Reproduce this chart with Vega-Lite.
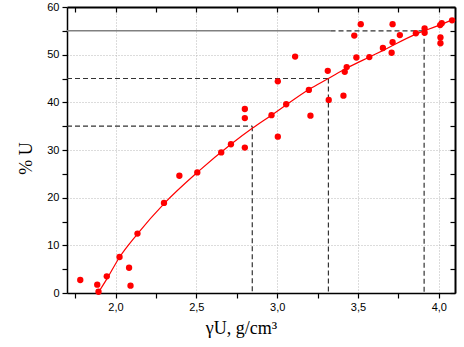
{
  "$schema": "https://vega.github.io/schema/vega-lite/v6.json",
  "width": 388,
  "height": 286,
  "autosize": {"type": "none"},
  "padding": {"left": 67, "top": 7, "right": 9, "bottom": 54},
  "background": "white",
  "config": {
    "view": {"stroke": null},
    "axis": {
      "domainColor": "black",
      "domainWidth": 1.5,
      "tickColor": "black",
      "tickWidth": 1.2,
      "labelColor": "black",
      "titleColor": "black",
      "labelFont": "Liberation Sans",
      "labelFontSize": 11,
      "titleFont": "Liberation Serif",
      "titleFontSize": 18,
      "titleFontWeight": "normal",
      "gridColor": "#b8b8b8",
      "gridDash": [1, 2],
      "gridWidth": 1,
      "labelOverlap": false,
      "labelFlush": false
    }
  },
  "datasets": {
    "points": [
      {"gamma": 1.782, "U": 2.73}, {"gamma": 1.887, "U": 1.74}, {"gamma": 1.895, "U": 0.27},
      {"gamma": 1.946, "U": 3.5}, {"gamma": 2.025, "U": 7.56}, {"gamma": 2.084, "U": 5.3},
      {"gamma": 2.093, "U": 1.53}, {"gamma": 2.136, "U": 12.46}, {"gamma": 2.30, "U": 18.9},
      {"gamma": 2.395, "U": 24.6}, {"gamma": 2.506, "U": 25.3}, {"gamma": 2.654, "U": 29.5},
      {"gamma": 2.714, "U": 31.2}, {"gamma": 2.80, "U": 38.6}, {"gamma": 2.80, "U": 36.7},
      {"gamma": 2.80, "U": 30.5}, {"gamma": 2.965, "U": 37.3}, {"gamma": 3.004, "U": 44.4},
      {"gamma": 3.004, "U": 32.8}, {"gamma": 3.056, "U": 39.6}, {"gamma": 3.111, "U": 49.6},
      {"gamma": 3.196, "U": 42.6}, {"gamma": 3.206, "U": 37.2}, {"gamma": 3.313, "U": 46.6},
      {"gamma": 3.319, "U": 40.5}, {"gamma": 3.41, "U": 41.4}, {"gamma": 3.418, "U": 46.4},
      {"gamma": 3.43, "U": 47.4}, {"gamma": 3.477, "U": 54.0}, {"gamma": 3.49, "U": 49.4},
      {"gamma": 3.517, "U": 56.4}, {"gamma": 3.57, "U": 49.5}, {"gamma": 3.654, "U": 51.4},
      {"gamma": 3.708, "U": 50.4}, {"gamma": 3.714, "U": 56.4}, {"gamma": 3.714, "U": 52.6},
      {"gamma": 3.759, "U": 54.1}, {"gamma": 3.858, "U": 54.5}, {"gamma": 3.912, "U": 55.5},
      {"gamma": 3.912, "U": 54.6}, {"gamma": 4.008, "U": 56.2}, {"gamma": 4.018, "U": 56.6},
      {"gamma": 4.01, "U": 53.6}, {"gamma": 4.01, "U": 52.4}, {"gamma": 4.082, "U": 57.2}
    ],
    "curve": [
      {"gamma": 1.892, "U": 0}, {"gamma": 1.944, "U": 2.8}, {"gamma": 2.025, "U": 7.5},
      {"gamma": 2.136, "U": 12.4}, {"gamma": 2.302, "U": 18.8}, {"gamma": 2.506, "U": 25.3},
      {"gamma": 2.714, "U": 31.2}, {"gamma": 2.848, "U": 34.6}, {"gamma": 2.965, "U": 37.3},
      {"gamma": 3.057, "U": 39.5}, {"gamma": 3.196, "U": 42.7}, {"gamma": 3.317, "U": 45.0},
      {"gamma": 3.432, "U": 47.2}, {"gamma": 3.57, "U": 49.5}, {"gamma": 3.656, "U": 50.9},
      {"gamma": 3.858, "U": 54.3}, {"gamma": 3.909, "U": 55.0}, {"gamma": 4.012, "U": 56.3},
      {"gamma": 4.1, "U": 57.5}
    ],
    "solidRef": [
      {"x1": 1.7, "x2": 3.33, "y1": 55, "y2": 55}
    ],
    "dashedRef": [
      {"x1": 3.33, "x2": 3.909, "y1": 55, "y2": 55},
      {"x1": 3.909, "x2": 3.909, "y1": 55, "y2": 0},
      {"x1": 1.7, "x2": 3.317, "y1": 45, "y2": 45},
      {"x1": 3.317, "x2": 3.317, "y1": 45, "y2": 0},
      {"x1": 1.7, "x2": 2.846, "y1": 35, "y2": 35},
      {"x1": 2.846, "x2": 2.846, "y1": 35, "y2": 0}
    ]
  },
  "resolve": {"axis": {"x": "independent", "y": "independent"}},
  "layer": [
    {
      "data": {"name": "points"},
      "mark": {"type": "circle", "opacity": 0},
      "encoding": {
        "x": {
          "field": "gamma", "type": "quantitative",
          "scale": {"domain": [1.7, 4.1], "nice": false, "zero": false},
          "title": "γU,  g/cm³",
          "axis": {
            "orient": "bottom",
            "values": [1.75, 2.0, 2.25, 2.5, 2.75, 3.0, 3.25, 3.5, 3.75, 4.0],
            "labelExpr": "(datum.value * 2) % 1 == 0 ? replace(format(datum.value, '.1f'), '.', ',') : ''",
            "tickSize": 5,
            "labelPadding": 3,
            "titlePadding": 7,
            "titleX": 174,
            "grid": true,
            "gridOpacity": {"condition": {"test": "(datum.value * 2) % 1 == 0", "value": 1}, "value": 0}
          }
        },
        "y": {
          "field": "U", "type": "quantitative",
          "scale": {"domain": [0, 60], "nice": false},
          "title": "% U",
          "axis": {
            "orient": "left",
            "values": [0, 5, 10, 15, 20, 25, 30, 35, 40, 45, 50, 55, 60],
            "labelExpr": "datum.value % 10 == 0 ? format(datum.value, 'd') : ''",
            "tickSize": 5,
            "labelPadding": 3,
            "titlePadding": 11,
            "titleY": 151,
            "grid": true,
            "gridOpacity": {"condition": {"test": "datum.value % 10 == 0 && datum.value < 60", "value": 1}, "value": 0}
          }
        }
      }
    },
    {
      "data": {"name": "solidRef"},
      "mark": {"type": "rule", "color": "#808080", "strokeWidth": 1.5},
      "encoding": {
        "x": {"field": "x1", "type": "quantitative", "axis": null},
        "x2": {"field": "x2"},
        "y": {"field": "y1", "type": "quantitative", "axis": null},
        "y2": {"field": "y2"}
      }
    },
    {
      "data": {"name": "dashedRef"},
      "mark": {"type": "rule", "color": "#333333", "strokeWidth": 1.2, "strokeDash": [5, 3]},
      "encoding": {
        "x": {"field": "x1", "type": "quantitative", "axis": null},
        "x2": {"field": "x2"},
        "y": {"field": "y1", "type": "quantitative", "axis": null},
        "y2": {"field": "y2"}
      }
    },
    {
      "data": {"name": "curve"},
      "mark": {"type": "line", "color": "#ff0000", "strokeWidth": 1.2, "interpolate": "monotone"},
      "encoding": {
        "x": {
          "field": "gamma", "type": "quantitative",
          "axis": {
            "orient": "top", "labels": false, "title": null, "grid": false,
            "values": [1.75, 2.0, 2.25, 2.5, 2.75, 3.0, 3.25, 3.5, 3.75, 4.0],
            "tickSize": -5, "domainWidth": 2
          }
        },
        "y": {
          "field": "U", "type": "quantitative",
          "axis": {
            "orient": "right", "labels": false, "title": null, "grid": false,
            "values": [0, 5, 10, 15, 20, 25, 30, 35, 40, 45, 50, 55, 60],
            "tickSize": -5, "domainWidth": 2
          }
        }
      }
    },
    {
      "data": {"name": "points"},
      "mark": {"type": "circle", "color": "#ff0000", "opacity": 1, "size": 40},
      "encoding": {
        "x": {"field": "gamma", "type": "quantitative", "axis": null},
        "y": {"field": "U", "type": "quantitative", "axis": null}
      }
    }
  ]
}
